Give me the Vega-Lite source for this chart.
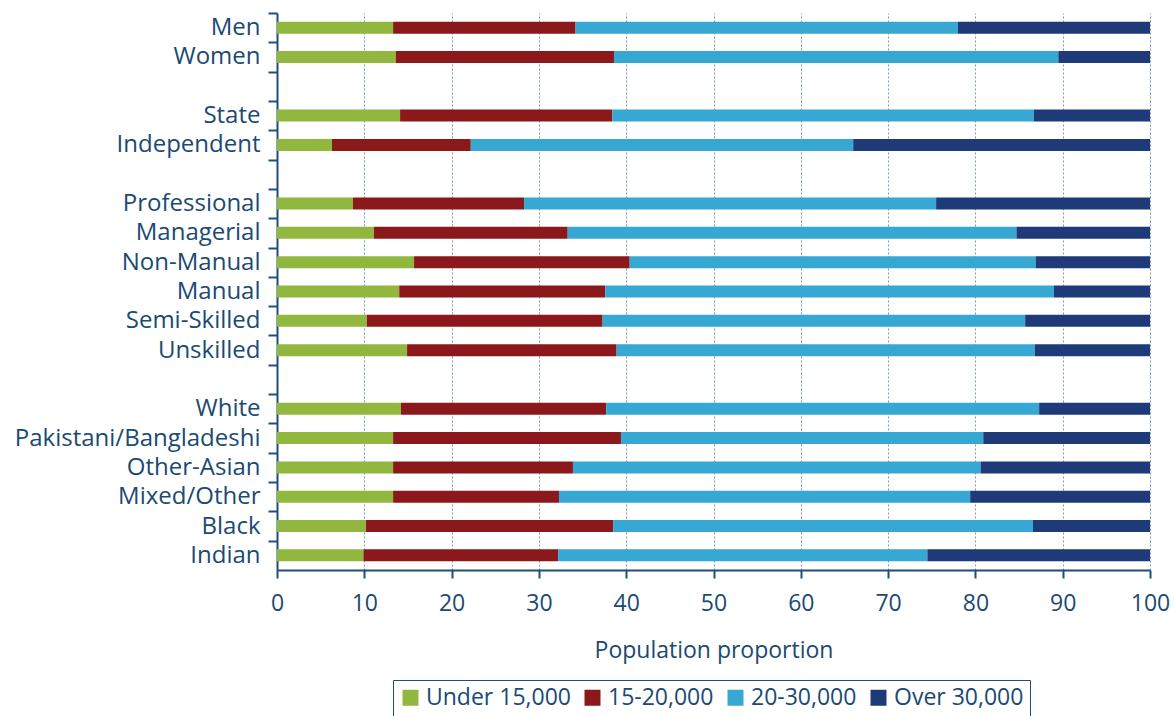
{
  "$schema": "https://vega.github.io/schema/vega-lite/v6.json",
  "width": 873,
  "height": 557,
  "autosize": "none",
  "padding": {"left": 277, "top": 13, "right": 24, "bottom": 146},
  "background": "white",
  "config": {
    "font": "Open Sans",
    "view": {"stroke": null},
    "axis": {"labelColor": "#1b4a72", "titleColor": "#1b4a72", "domainColor": "#1f4e79", "tickColor": "#1f4e79"}
  },
  "data": {
    "values": [
      {"cat": "Men", "grp": "Under 15,000", "o": 1, "v": 13.3},
      {"cat": "Men", "grp": "15-20,000", "o": 2, "v": 20.9},
      {"cat": "Men", "grp": "20-30,000", "o": 3, "v": 43.8},
      {"cat": "Men", "grp": "Over 30,000", "o": 4, "v": 22.0},
      {"cat": "Women", "grp": "Under 15,000", "o": 1, "v": 13.6},
      {"cat": "Women", "grp": "15-20,000", "o": 2, "v": 25.0},
      {"cat": "Women", "grp": "20-30,000", "o": 3, "v": 50.9},
      {"cat": "Women", "grp": "Over 30,000", "o": 4, "v": 10.5},
      {"cat": "State", "grp": "Under 15,000", "o": 1, "v": 14.1},
      {"cat": "State", "grp": "15-20,000", "o": 2, "v": 24.3},
      {"cat": "State", "grp": "20-30,000", "o": 3, "v": 48.3},
      {"cat": "State", "grp": "Over 30,000", "o": 4, "v": 13.3},
      {"cat": "Independent", "grp": "Under 15,000", "o": 1, "v": 6.3},
      {"cat": "Independent", "grp": "15-20,000", "o": 2, "v": 15.9},
      {"cat": "Independent", "grp": "20-30,000", "o": 3, "v": 43.8},
      {"cat": "Independent", "grp": "Over 30,000", "o": 4, "v": 34.0},
      {"cat": "Professional", "grp": "Under 15,000", "o": 1, "v": 8.7},
      {"cat": "Professional", "grp": "15-20,000", "o": 2, "v": 19.6},
      {"cat": "Professional", "grp": "20-30,000", "o": 3, "v": 47.2},
      {"cat": "Professional", "grp": "Over 30,000", "o": 4, "v": 24.5},
      {"cat": "Managerial", "grp": "Under 15,000", "o": 1, "v": 11.1},
      {"cat": "Managerial", "grp": "15-20,000", "o": 2, "v": 22.2},
      {"cat": "Managerial", "grp": "20-30,000", "o": 3, "v": 51.4},
      {"cat": "Managerial", "grp": "Over 30,000", "o": 4, "v": 15.3},
      {"cat": "Non-Manual", "grp": "Under 15,000", "o": 1, "v": 15.7},
      {"cat": "Non-Manual", "grp": "15-20,000", "o": 2, "v": 24.7},
      {"cat": "Non-Manual", "grp": "20-30,000", "o": 3, "v": 46.5},
      {"cat": "Non-Manual", "grp": "Over 30,000", "o": 4, "v": 13.1},
      {"cat": "Manual", "grp": "Under 15,000", "o": 1, "v": 14.0},
      {"cat": "Manual", "grp": "15-20,000", "o": 2, "v": 23.6},
      {"cat": "Manual", "grp": "20-30,000", "o": 3, "v": 51.4},
      {"cat": "Manual", "grp": "Over 30,000", "o": 4, "v": 11.0},
      {"cat": "Semi-Skilled", "grp": "Under 15,000", "o": 1, "v": 10.3},
      {"cat": "Semi-Skilled", "grp": "15-20,000", "o": 2, "v": 27.0},
      {"cat": "Semi-Skilled", "grp": "20-30,000", "o": 3, "v": 48.4},
      {"cat": "Semi-Skilled", "grp": "Over 30,000", "o": 4, "v": 14.3},
      {"cat": "Unskilled", "grp": "Under 15,000", "o": 1, "v": 14.9},
      {"cat": "Unskilled", "grp": "15-20,000", "o": 2, "v": 24.0},
      {"cat": "Unskilled", "grp": "20-30,000", "o": 3, "v": 47.9},
      {"cat": "Unskilled", "grp": "Over 30,000", "o": 4, "v": 13.2},
      {"cat": "White", "grp": "Under 15,000", "o": 1, "v": 14.2},
      {"cat": "White", "grp": "15-20,000", "o": 2, "v": 23.5},
      {"cat": "White", "grp": "20-30,000", "o": 3, "v": 49.6},
      {"cat": "White", "grp": "Over 30,000", "o": 4, "v": 12.7},
      {"cat": "Pakistani/Bangladeshi", "grp": "Under 15,000", "o": 1, "v": 13.3},
      {"cat": "Pakistani/Bangladeshi", "grp": "15-20,000", "o": 2, "v": 26.1},
      {"cat": "Pakistani/Bangladeshi", "grp": "20-30,000", "o": 3, "v": 41.5},
      {"cat": "Pakistani/Bangladeshi", "grp": "Over 30,000", "o": 4, "v": 19.1},
      {"cat": "Other-Asian", "grp": "Under 15,000", "o": 1, "v": 13.3},
      {"cat": "Other-Asian", "grp": "15-20,000", "o": 2, "v": 20.6},
      {"cat": "Other-Asian", "grp": "20-30,000", "o": 3, "v": 46.7},
      {"cat": "Other-Asian", "grp": "Over 30,000", "o": 4, "v": 19.4},
      {"cat": "Mixed/Other", "grp": "Under 15,000", "o": 1, "v": 13.3},
      {"cat": "Mixed/Other", "grp": "15-20,000", "o": 2, "v": 19.0},
      {"cat": "Mixed/Other", "grp": "20-30,000", "o": 3, "v": 47.1},
      {"cat": "Mixed/Other", "grp": "Over 30,000", "o": 4, "v": 20.6},
      {"cat": "Black", "grp": "Under 15,000", "o": 1, "v": 10.2},
      {"cat": "Black", "grp": "15-20,000", "o": 2, "v": 28.3},
      {"cat": "Black", "grp": "20-30,000", "o": 3, "v": 48.1},
      {"cat": "Black", "grp": "Over 30,000", "o": 4, "v": 13.4},
      {"cat": "Indian", "grp": "Under 15,000", "o": 1, "v": 9.9},
      {"cat": "Indian", "grp": "15-20,000", "o": 2, "v": 22.3},
      {"cat": "Indian", "grp": "20-30,000", "o": 3, "v": 42.3},
      {"cat": "Indian", "grp": "Over 30,000", "o": 4, "v": 25.5}
    ]
  },
  "mark": {"type": "bar", "size": 12},
  "encoding": {
    "y": {
      "field": "cat",
      "type": "nominal",
      "sort": null,
      "scale": {
        "domain": ["Men", "Women", "_1", "State", "Independent", "_2", "Professional", "Managerial", "Non-Manual", "Manual", "Semi-Skilled", "Unskilled", "_3", "White", "Pakistani/Bangladeshi", "Other-Asian", "Mixed/Other", "Black", "Indian"],
        "paddingInner": 0,
        "paddingOuter": 0
      },
      "axis": {
        "title": null,
        "labelExpr": "indexof(datum.value, '_') == 0 ? '' : datum.value",
        "labelFontSize": 24,
        "labelLimit": 0,
        "labelPadding": 8,
        "labelOffset": 14.66,
        "tickSize": 9,
        "tickWidth": 2,
        "tickOffset": -14.66,
        "domainWidth": 2,
        "grid": false
      }
    },
    "x": {
      "field": "v",
      "type": "quantitative",
      "stack": "zero",
      "scale": {"domain": [0, 100], "nice": false},
      "axis": {
        "orient": "bottom",
        "title": "Population proportion",
        "titleFontSize": 23,
        "titleFontWeight": "normal",
        "titlePadding": 24,
        "values": [0, 10, 20, 30, 40, 50, 60, 70, 80, 90, 100],
        "labelFontSize": 23,
        "labelPadding": 14,
        "labelFlush": false,
        "tickSize": 8,
        "tickWidth": 2,
        "domainWidth": 2,
        "grid": true,
        "gridColor": "#5b7fa0",
        "gridDash": [2, 2],
        "gridWidth": 1,
        "gridOpacity": 0.8
      }
    },
    "color": {
      "field": "grp",
      "type": "nominal",
      "scale": {
        "domain": ["Under 15,000", "15-20,000", "20-30,000", "Over 30,000"],
        "range": ["#92b73e", "#8b191c", "#37a8d4", "#1f3a78"]
      },
      "legend": {
        "title": null,
        "orient": "none",
        "legendX": 116,
        "legendY": 667,
        "direction": "horizontal",
        "symbolType": "square",
        "symbolSize": 256,
        "symbolStrokeWidth": 0,
        "labelFontSize": 23,
        "labelColor": "#1b4a72",
        "labelOffset": 4,
        "columnPadding": 10,
        "padding": 6,
        "strokeColor": "#1f4e79"
      }
    },
    "order": {"field": "o", "type": "quantitative"}
  }
}
